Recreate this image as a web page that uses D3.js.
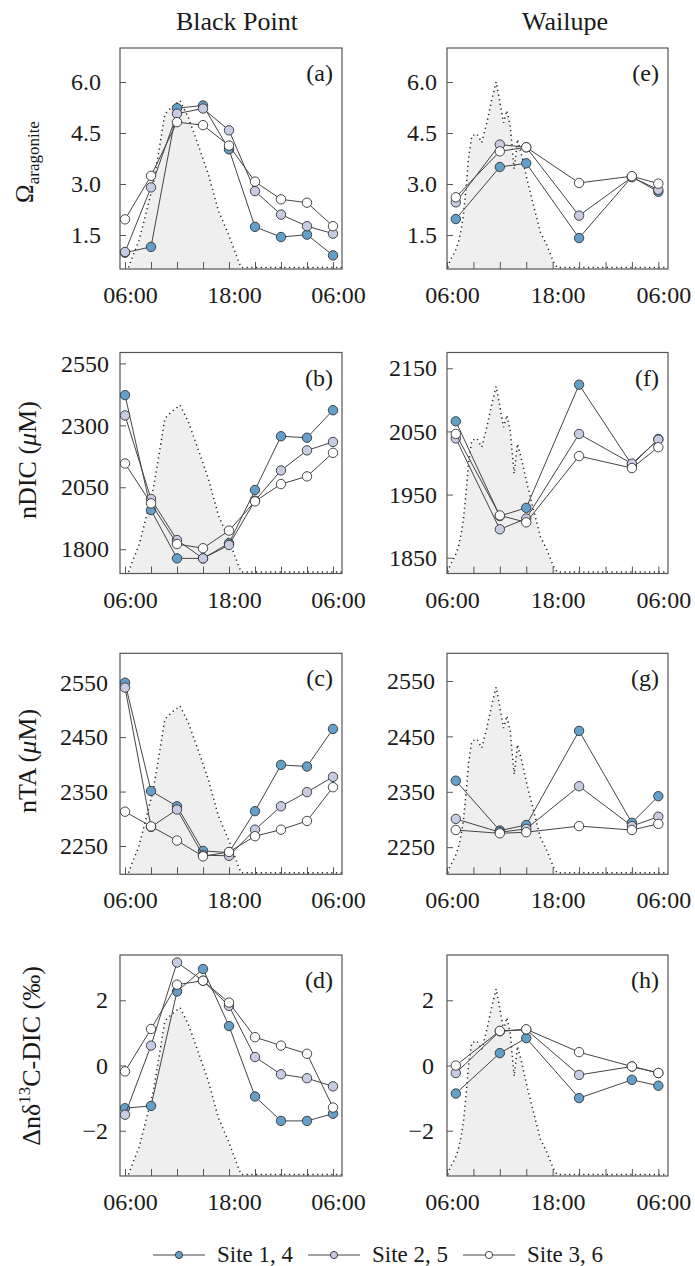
<!DOCTYPE html>
<html><head><meta charset="utf-8">
<script src="https://cdn.jsdelivr.net/npm/d3@7"></script>
<style>
body{margin:0;background:#fff}
svg{display:block}
text{font-family:"Liberation Serif","Times New Roman",serif;fill:#1a1a1a}
</style>
</head><body>
<svg id="chart" width="695" height="1266"></svg>
<script>
// ---------------- DATA ----------------
const sites = ["Black Point", "Wailupe"];
const seriesNames = ["Site 1, 4", "Site 2, 5", "Site 3, 6"];
const seriesColors = ["#62a0c9", "#c7cbe4", "#ffffff"];

// sampling times (hours since 00:00 of day 1)
const timesBP = [6, 9, 12, 15, 18, 21, 24, 27, 30];
const timesW  = [7, 12, 15, 21, 27, 30];

// Black Point
const omegaBP1 = [0.98, 1.15, 5.23, 5.31, 4.02, 1.74, 1.44, 1.51, 0.90];
const omegaBP2 = [1.00, 2.90, 5.07, 5.22, 4.58, 2.79, 2.10, 1.76, 1.54];
const omegaBP3 = [1.96, 3.24, 4.82, 4.73, 4.13, 3.07, 2.55, 2.45, 1.76];
const dicBP1 = [2422, 1958, 1763, 1763, 1824, 2039, 2256, 2250, 2361];
const dicBP2 = [2340, 2003, 1837, 1763, 1817, 1996, 2118, 2199, 2233];
const dicBP3 = [2146, 1985, 1821, 1804, 1875, 1993, 2063, 2094, 2189];
const taBP1 = [2550, 2351, 2323, 2241, 2238, 2314, 2399, 2396, 2465];
const taBP2 = [2541, 2285, 2317, 2233, 2232, 2280, 2323, 2349, 2377];
const taBP3 = [2313, 2286, 2260, 2231, 2239, 2268, 2280, 2296, 2358];
const d13BP1 = [-1.31, -1.24, 2.27, 2.96, 1.21, -0.95, -1.70, -1.70, -1.48];
const d13BP2 = [-1.51, 0.61, 3.16, 2.60, 1.83, 0.26, -0.27, -0.39, -0.64];
const d13BP3 = [-0.18, 1.12, 2.48, 2.60, 1.93, 0.87, 0.61, 0.36, -1.29];

// Wailupe
const omegaW1 = [1.97, 3.50, 3.61, 1.41, 3.21, 2.77];
const omegaW2 = [2.46, 4.16, 4.08, 2.07, 3.20, 2.83];
const omegaW3 = [2.61, 3.96, 4.08, 3.03, 3.23, 3.01];
const dicW1 = [2066, 1916, 1929, 2124, 1997, 2038];
const dicW2 = [2039, 1895, 1912, 2046, 1999, 2037];
const dicW3 = [2046, 1917, 1906, 2011, 1992, 2025];
const taW1 = [2370, 2280, 2290, 2460, 2294, 2342];
const taW2 = [2301, 2277, 2283, 2360, 2288, 2305];
const taW3 = [2281, 2275, 2277, 2288, 2281, 2292];
const d13W1 = [-0.86, 0.38, 0.84, -1.00, -0.44, -0.62];
const d13W2 = [-0.23, 1.05, 1.10, -0.29, -0.03, -0.23];
const d13W3 = [0.00, 1.06, 1.11, 0.41, -0.03, -0.23];

// light (PAR, arbitrary units) shown as dotted shaded background
const parTimeBP = [6.4, 6.69, 7.15, 7.6, 8.11, 9.27, 10.04, 10.6, 11.38, 12.35, 13.3, 14.54, 15.61, 16.77, 17.92, 19.07, 19.4, 31.2];
const parBP     = [0, 62, 152, 242, 394, 756, 1118, 1390, 1450, 1510, 1360, 1088, 846, 514, 304, 62, 0, 0];
const parTimeW = [6.1, 6.34, 6.9, 7.29, 7.6, 7.86, 8.2, 8.43, 8.81, 9.38, 9.95, 10.52, 11.09, 11.58, 11.96, 12.42, 12.8, 13.18, 13.63, 14.0, 14.5, 15.08, 15.84, 16.6, 17.35, 18.1, 18.5, 31.2];
const parW     = [0, 60, 140, 226, 340, 470, 750, 980, 1190, 1210, 1130, 1310, 1520, 1680, 1520, 1310, 1420, 1280, 890, 1160, 1010, 800, 560, 320, 200, 50, 0, 0];

// ticks
const hourTicks = [6, 9, 12, 15, 18, 21, 24, 27, 30];
const hourLabels = {6: "06:00", 18: "18:00", 30: "06:00"};
const omegaTicks = [1.5, 3.0, 4.5, 6.0];
const dicTicksBP = [1800, 2050, 2300, 2550];
const dicTicksW = [1850, 1950, 2050, 2150];
const taTicks = [2250, 2350, 2450, 2550];
const d13Ticks = [-2, 0, 2];

// ---------------- LAYOUT ----------------
const svg = d3.select("#chart");
const rowTops = [48, 352.5, 653.3, 955];
const H = 221;
const cols = [
  {x: 120, w: 222, xdom: [5.42, 31.04], times: timesBP, parT: parTimeBP, par: parBP},
  {x: 447, w: 221, xdom: [6.0, 31.1], times: timesW, parT: parTimeW, par: parW}
];
const panels = [
  {col: 0, row: 0, letter: "(a)", ydom: [0.5, 7.0], ticks: omegaTicks, fmt: d3.format(".1f"), data: [omegaBP1, omegaBP2, omegaBP3], gap: 19},
  {col: 0, row: 1, letter: "(b)", ydom: [1702, 2594], ticks: dicTicksBP, fmt: d3.format("d"), data: [dicBP1, dicBP2, dicBP3], gap: 11},
  {col: 0, row: 2, letter: "(c)", ydom: [2198, 2604], ticks: taTicks, fmt: d3.format("d"), data: [taBP1, taBP2, taBP3], gap: 12},
  {col: 0, row: 3, letter: "(d)", ydom: [-3.39, 3.39], ticks: d13Ticks, fmt: d3.format("d"), data: [d13BP1, d13BP2, d13BP3], gap: 12},
  {col: 1, row: 0, letter: "(e)", ydom: [0.5, 7.0], ticks: omegaTicks, fmt: d3.format(".1f"), data: [omegaW1, omegaW2, omegaW3], gap: 10},
  {col: 1, row: 1, letter: "(f)", ydom: [1825, 2175], ticks: dicTicksW, fmt: d3.format("d"), data: [dicW1, dicW2, dicW3], gap: 10},
  {col: 1, row: 2, letter: "(g)", ydom: [2201, 2600], ticks: taTicks, fmt: d3.format("d"), data: [taW1, taW2, taW3], gap: 12},
  {col: 1, row: 3, letter: "(h)", ydom: [-3.39, 3.39], ticks: d13Ticks, fmt: d3.format("d"), data: [d13W1, d13W2, d13W3], gap: 13}
];

const defs = svg.append("defs");

panels.forEach((p, i) => {
  const c = cols[p.col];
  const W = c.w;
  const g = svg.append("g").attr("transform", `translate(${c.x},${rowTops[p.row]})`);
  const x = d3.scaleLinear().domain(c.xdom).range([0, W]);
  const y = d3.scaleLinear().domain(p.ydom).range([H, 0]);
  const yPar = d3.scaleLinear().domain([0, 2000]).range([H, 0]);

  defs.append("clipPath").attr("id", "clip" + i)
    .append("rect").attr("width", W).attr("height", H);

  const parData = c.parT.map((t, k) => [t, c.par[k]]);
  const bg = g.append("g").attr("clip-path", `url(#clip${i})`);
  bg.append("path").datum(parData)
    .attr("d", d3.area().x(d => x(d[0])).y0(H).y1(d => yPar(d[1])))
    .attr("fill", "#efefef");
  bg.append("path").datum(parData)
    .attr("d", d3.line().x(d => x(d[0])).y(d => yPar(d[1]) - 1.5))
    .attr("fill", "none").attr("stroke", "#2a2a2a")
    .attr("stroke-width", 1.5).attr("stroke-dasharray", "1.3,3.4");

  // axes (ticks inward)
  const xa = g.append("g").attr("transform", `translate(0,${H})`)
    .call(d3.axisBottom(x).tickValues(hourTicks).tickSize(-7).tickPadding(17)
      .tickFormat(d => hourLabels[d] || ""));
  xa.select(".domain").remove();
  xa.selectAll("line").attr("stroke", "#555");
  xa.selectAll("text").attr("x", 5).style("font-size", "24px").attr("fill", "#1a1a1a");

  const ya = g.append("g")
    .call(d3.axisLeft(y).tickValues(p.ticks).tickSize(-6).tickPadding(p.gap).tickFormat(p.fmt));
  ya.select(".domain").remove();
  ya.selectAll("line").attr("stroke", "#555");
  ya.selectAll("text").style("font-size", "24px").attr("fill", "#1a1a1a");

  g.append("rect").attr("width", W).attr("height", H)
    .attr("fill", "none").attr("stroke", "#555").attr("stroke-width", 1.2);

  const line = d3.line().x(d => x(d[0])).y(d => y(d[1]));
  p.data.forEach((vals, s) => {
    const pts = c.times.map((t, k) => [t, vals[k]]);
    g.append("path").datum(pts).attr("d", line)
      .attr("fill", "none").attr("stroke", "#444").attr("stroke-width", 1);
    g.selectAll(null).data(pts).enter().append("circle")
      .attr("cx", d => x(d[0])).attr("cy", d => y(d[1])).attr("r", 4.7)
      .attr("fill", seriesColors[s]).attr("stroke", "#333").attr("stroke-width", 0.9);
  });

  g.append("text").attr("x", W - 9).attr("y", 33).attr("text-anchor", "end")
    .style("font-size", "24px").text(p.letter);
});

// column titles
svg.append("text").attr("x", 237).attr("y", 30).attr("text-anchor", "middle")
  .style("font-size", "26px").text(sites[0]);
svg.append("text").attr("x", 565).attr("y", 30).attr("text-anchor", "middle")
  .style("font-size", "26px").text(sites[1]);

// y titles
const t1 = svg.append("text").attr("transform", "translate(33,162) rotate(-90)")
  .attr("text-anchor", "middle").style("font-size", "25px");
t1.append("tspan").text("Ω");
t1.append("tspan").attr("dy", 6).style("font-size", "17px").text("aragonite");

const t2 = svg.append("text").attr("transform", "translate(36,460) rotate(-90)")
  .attr("text-anchor", "middle").style("font-size", "26px");
t2.append("tspan").text("nDIC (");
t2.append("tspan").style("font-style", "italic").text("μ");
t2.append("tspan").text("M)");

const t3 = svg.append("text").attr("transform", "translate(36,761) rotate(-90)")
  .attr("text-anchor", "middle").style("font-size", "26px");
t3.append("tspan").text("nTA (");
t3.append("tspan").style("font-style", "italic").text("μ");
t3.append("tspan").text("M)");

const t4 = svg.append("text").attr("transform", "translate(40,1056) rotate(-90)")
  .attr("text-anchor", "middle").style("font-size", "26px");
t4.append("tspan").text("Δnδ");
t4.append("tspan").attr("dy", -10).style("font-size", "17px").text("13");
t4.append("tspan").attr("dy", 10).text("C-DIC (‰)");

// legend
const legX = [153, 308, 463];
const lg = svg.append("g");
seriesNames.forEach((name, s) => {
  const x0 = legX[s];
  lg.append("line").attr("x1", x0).attr("x2", x0 + 52).attr("y1", 1255).attr("y2", 1255)
    .attr("stroke", "#444").attr("stroke-width", 1);
  lg.append("circle").attr("cx", x0 + 26).attr("cy", 1255).attr("r", 3.6)
    .attr("fill", seriesColors[s]).attr("stroke", "#333").attr("stroke-width", 0.9);
  lg.append("text").attr("x", x0 + 64).attr("y", 1262).style("font-size", "23px").text(name);
});
</script>
</body></html>
